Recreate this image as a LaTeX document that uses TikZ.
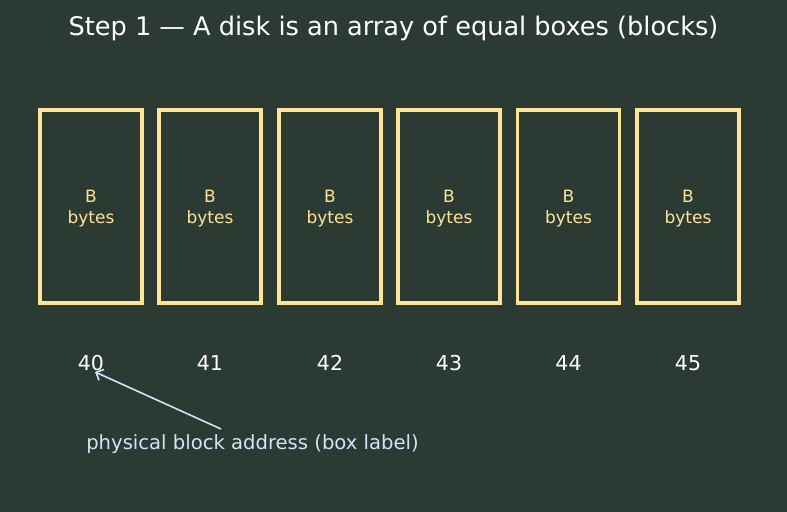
\documentclass[tikz,border=0pt]{standalone}
\usepackage{fontspec}
\setmainfont{DejaVu Sans}
\usetikzlibrary{arrows.meta,positioning}
\definecolor{bgdark}{HTML}{2B3A33}
\definecolor{boxyellow}{HTML}{FFE396}
\definecolor{paleblue}{HTML}{CCE6FA}
\begin{document}
\begin{tikzpicture}[x=1bp,y=-1bp, every node/.style={inner sep=0pt, text=white},
    blockbox/.style={draw=boxyellow, line width=3.5bp, minimum width=102bp, minimum height=193bp},
    blocktext/.style={align=center, text=boxyellow, font=\fontsize{17bp}{21bp}\selectfont},
    numlabel/.style={font=\fontsize{20.5bp}{24bp}\selectfont, text=white!95!boxyellow}]
    \fill[bgdark] (0,0) rectangle (787,512);
    \useasboundingbox (0,0) rectangle (787,512);
    \node[font=\fontsize{25.6bp}{30bp}\selectfont, text=white!95!boxyellow] (title) at (393.5,28) {Step 1 --- A disk is an array of equal boxes (blocks)};
    \foreach \n/\cx in {40/91, 41/210, 42/330, 43/449, 44/568.5, 45/688} {
        \node[blockbox] (blk\n) at (\cx,206.5) {};
        \node[blocktext] (bytes\n) at (\cx,208.5) {B\\bytes};
        \node[numlabel] (num\n) at (\cx,363) {\n};
    }
    \node[font=\fontsize{19.6bp}{23bp}\selectfont, text=paleblue] (addr) at (252.5,444.5) {physical block address (box label)};
    \coordinate (tail) at (221,429);
    \draw[-{Straight Barb[length=6bp,width=12bp]}, paleblue, line width=1.6bp] (tail) -- ([xshift=4bp,yshift=-1bp]num40.south);
\end{tikzpicture}
\end{document}
